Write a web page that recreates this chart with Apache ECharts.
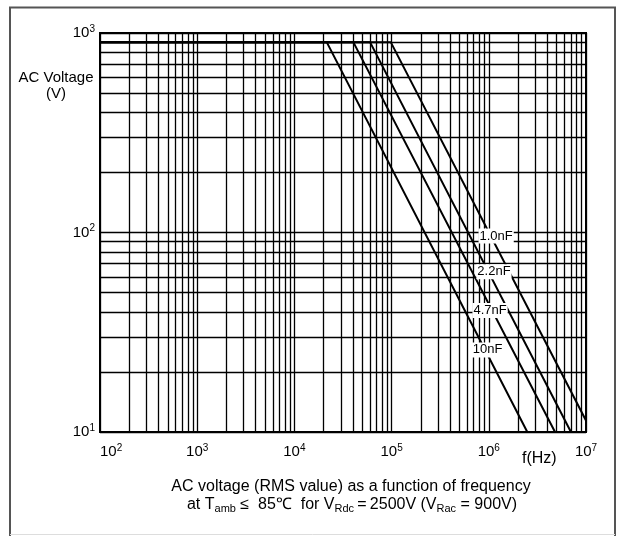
<!DOCTYPE html>
<html>
<head>
<meta charset="utf-8">
<script src="https://cdn.jsdelivr.net/npm/echarts@6/dist/echarts.min.js"></script>
<style>
  html, body { margin: 0; padding: 0; background: #fff; }
  #chart { width: 623px; height: 536px; }
</style>
</head>
<body>
<div id="chart"></div>
<script>
// ---- data ----
const capLabels = ['1.0nF', '2.2nF', '4.7nF', '10nF'];
const plateauVoltage = 900;          // V
const startFreq = 100;               // Hz (left edge)
const breakFreq = [98000, 60000, 40400, 21500];     // Hz where the curve leaves 900 V
const endFreq = [11.5e6, 7.0e6, 4.8e6, 2.49e6];     // Hz where the curve reaches 10 V
const endVoltage = 10;               // V
const labelFreq = [1.19e6, 1.13e6, 1.03e6, 9.7e5];  // label anchor frequency
const labelVoltage = [96, 63.6, 40.6, 25.8];        // label anchor voltage
const xDecades = [100, 1000, 10000, 100000, 1000000];
const yDecades = [10, 100];
const minorSteps = [2, 3, 4, 5, 6, 7, 8, 9];

const FONT = '"Liberation Sans", Arial, Helvetica, sans-serif';

const xMinor = [];
xDecades.forEach(d => minorSteps.forEach(m => xMinor.push(d * m)));
const yMinor = [];
yDecades.forEach(d => minorSteps.forEach(m => yMinor.push(d * m)));

const gridLineData = xMinor.map(v => ({ xAxis: v })).concat(yMinor.map(v => ({ yAxis: v })));

const supRich = {
  b: { fontSize: 15, lineHeight: 18, fontFamily: FONT, color: '#000' },
  sup: { fontSize: 10, lineHeight: 10, verticalAlign: 'top', padding: [0, 0, 3, 0], fontFamily: FONT, color: '#000' }
};
function powLabel(v) {
  return '{b|10}{sup|' + Math.round(Math.log10(v)) + '}';
}

const series = capLabels.map((name, i) => ({
  name: name,
  type: 'line',
  clip: false,
  symbol: 'none',
  silent: true,
  animation: false,
  z: 5,
  lineStyle: { color: '#000', width: 2 },
  data: [[startFreq, plateauVoltage], [breakFreq[i], plateauVoltage], [endFreq[i], endVoltage]]
}));

series.push({
  name: 'grid',
  type: 'line',
  data: [],
  silent: true,
  animation: false,
  z: 1,
  markLine: {
    silent: true,
    animation: false,
    symbol: ['none', 'none'],
    label: { show: false },
    lineStyle: { color: '#000', width: 1.3, type: 'solid' },
    data: gridLineData
  }
});

series.push({
  name: 'labels',
  type: 'custom',
  silent: true,
  animation: false,
  clip: false,
  z: 10,
  data: capLabels.map((n, i) => [labelFreq[i], labelVoltage[i]]),
  renderItem: function (params, api) {
    const p = api.coord([api.value(0), api.value(1)]);
    return {
      type: 'text',
      x: p[0], y: p[1],
      z2: 100,
      style: {
        text: capLabels[params.dataIndex],
        fill: '#000',
        font: '13px ' + FONT,
        align: 'center',
        verticalAlign: 'middle',
        backgroundColor: '#fff',
        padding: [1, 1, 1, 1]
      }
    };
  }
});

const chart = echarts.init(document.getElementById('chart'), null, { renderer: 'canvas' });
chart.setOption({
  animation: false,
  backgroundColor: '#fff',
  grid: {
    left: 100, right: 37, top: 33, bottom: 104,
    show: true, borderColor: '#000', borderWidth: 2, backgroundColor: 'transparent'
  },
  xAxis: {
    type: 'log', logBase: 10, min: 100, max: 1e7,
    axisLine: { show: false },
    axisTick: { show: false },
    splitLine: { show: true, lineStyle: { color: '#000', width: 1.3 } },
    axisLabel: {
      margin: 11, formatter: powLabel, rich: supRich, alignMinLabel: 'left'
    }
  },
  yAxis: {
    type: 'log', logBase: 10, min: 10, max: 1000,
    axisLine: { show: false },
    axisTick: { show: false },
    splitLine: { show: true, lineStyle: { color: '#000', width: 1.3 } },
    axisLabel: { margin: 5, formatter: powLabel, rich: supRich }
  },
  graphic: [
    { type: 'line', shape: { x1: 10, y1: 7.5, x2: 10, y2: 536 }, style: { stroke: '#555', lineWidth: 2 } },
    { type: 'line', shape: { x1: 9, y1: 7.5, x2: 616, y2: 7.5 }, style: { stroke: '#555', lineWidth: 2 } },
    { type: 'line', shape: { x1: 615, y1: 7.5, x2: 615, y2: 536 }, style: { stroke: '#555', lineWidth: 2 } },
    { type: 'line', shape: { x1: 10, y1: 534.5, x2: 615, y2: 534.5 }, style: { stroke: '#ddd', lineWidth: 1 } },
    {
      type: 'text', z: 20,
      style: { text: 'AC Voltage\n(V)', x: 56, y: 70, align: 'center', verticalAlign: 'top',
               font: '15px ' + FONT, lineHeight: 16, fill: '#000' }
    },
    {
      type: 'text', z: 20,
      style: { text: 'f(Hz)', x: 522, y: 459, align: 'left', verticalAlign: 'middle',
               font: '16px ' + FONT, fill: '#000' }
    },
    {
      type: 'text', z: 20,
      style: { text: 'AC voltage (RMS value) as a function of frequency', x: 351, y: 487,
               align: 'center', verticalAlign: 'middle', font: '16px ' + FONT, fill: '#000' }
    },
    {
      type: 'text', z: 20,
      style: {
        text: 'at T{sub|amb} \u2264  85\u2103  for V{sub|Rdc}\u2009=\u20092500V (V{sub|Rac} = 900V)',
        x: 352, y: 505, align: 'center', verticalAlign: 'middle',
        font: '16px ' + FONT, lineHeight: 18, fill: '#000',
        rich: { sub: { fontSize: 11, lineHeight: 10, verticalAlign: 'bottom', fontFamily: FONT, fill: '#000' } }
      }
    }
  ],
  series: series
});
</script>
</body>
</html>
